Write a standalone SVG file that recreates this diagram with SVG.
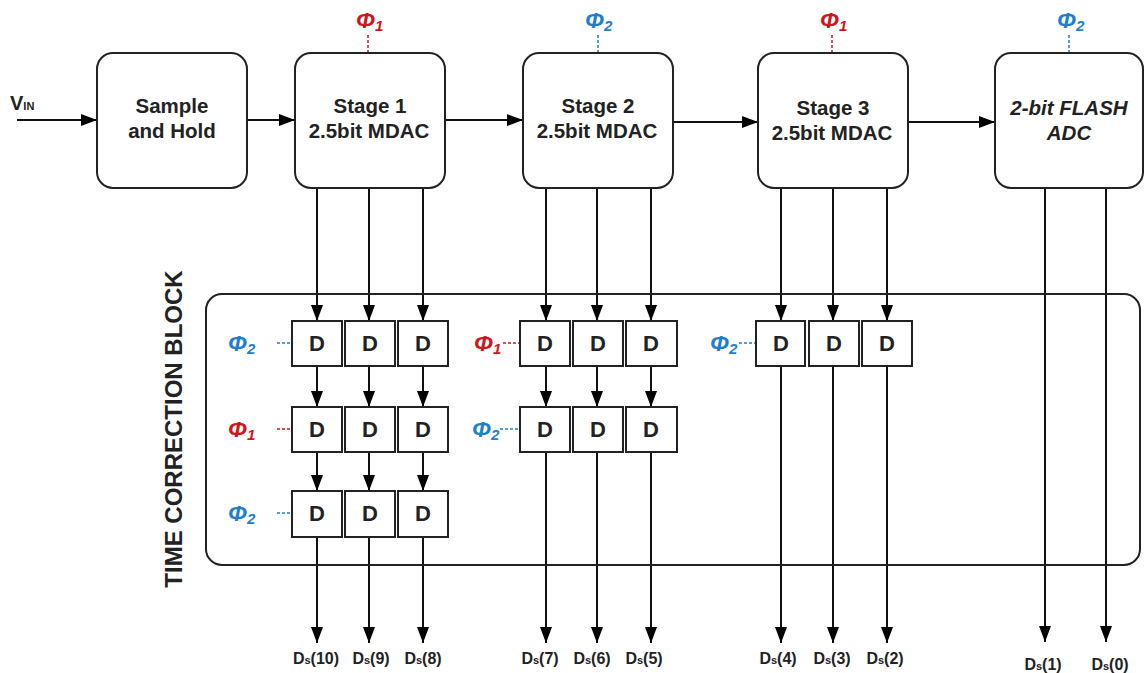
<svg xmlns="http://www.w3.org/2000/svg" width="1145" height="673" viewBox="0 0 1145 673">
<defs>
<marker id="ah" viewBox="0 0 16 12" refX="16" refY="6" markerWidth="16" markerHeight="12" markerUnits="userSpaceOnUse" orient="auto">
<path d="M0,0 L16,6 L0,12 Z" fill="#000"/>
</marker>
<style>
.blk{fill:#fff;stroke:#222;stroke-width:2}
.d{fill:#fff;stroke:#222;stroke-width:2}
.t{font-family:"Liberation Sans",Arial,sans-serif;font-weight:bold;fill:#222;text-anchor:middle}
.bt{font-size:20.5px}
.dt{font-size:22px}
.a{stroke:#111;stroke-width:2;fill:none;marker-end:url(#ah)}
.ph{font-family:"Liberation Sans",Arial,sans-serif;font-weight:bold;font-style:italic;font-size:23px}
.sb{font-size:15px}
.p1{fill:#d0161b}
.p2{fill:#1f7fcf}
.dr{stroke:#d0161b;stroke-width:1.5;stroke-dasharray:3,2;fill:none}
.db{stroke:#1f7fcf;stroke-width:1.5;stroke-dasharray:3,2;fill:none}
.ds{font-family:"Liberation Sans",Arial,sans-serif;font-weight:bold;font-size:16px;fill:#222;text-anchor:middle}
.ss{font-size:11px}
</style>
</defs>

<g id="connectors">
<line class="a" x1="17" y1="120" x2="97" y2="120"/>
<line class="a" x1="247" y1="120" x2="295" y2="120"/>
<line class="a" x1="445" y1="120" x2="523" y2="120"/>
<line class="a" x1="673" y1="122" x2="758" y2="122"/>
<line class="a" x1="908" y1="122" x2="995" y2="122"/>
<!-- stage 1 -->
<line class="a" x1="317" y1="188" x2="317" y2="321"/>
<line class="a" x1="369" y1="188" x2="369" y2="321"/>
<line class="a" x1="423" y1="188" x2="423" y2="321"/>
<line class="a" x1="317" y1="366" x2="317" y2="407"/>
<line class="a" x1="369" y1="366" x2="369" y2="407"/>
<line class="a" x1="423" y1="366" x2="423" y2="407"/>
<line class="a" x1="317" y1="452" x2="317" y2="491"/>
<line class="a" x1="369" y1="452" x2="369" y2="491"/>
<line class="a" x1="423" y1="452" x2="423" y2="491"/>
<line class="a" x1="317" y1="537" x2="317" y2="643"/>
<line class="a" x1="369" y1="537" x2="369" y2="643"/>
<line class="a" x1="423" y1="537" x2="423" y2="643"/>
<!-- stage 2 -->
<line class="a" x1="546" y1="188" x2="546" y2="321"/>
<line class="a" x1="597" y1="188" x2="597" y2="321"/>
<line class="a" x1="651" y1="188" x2="651" y2="321"/>
<line class="a" x1="546" y1="366" x2="546" y2="407"/>
<line class="a" x1="597" y1="366" x2="597" y2="407"/>
<line class="a" x1="651" y1="366" x2="651" y2="407"/>
<line class="a" x1="546" y1="452" x2="546" y2="643"/>
<line class="a" x1="597" y1="452" x2="597" y2="643"/>
<line class="a" x1="651" y1="452" x2="651" y2="643"/>
<!-- stage 3 -->
<line class="a" x1="781" y1="188" x2="781" y2="321"/>
<line class="a" x1="833" y1="188" x2="833" y2="321"/>
<line class="a" x1="887" y1="188" x2="887" y2="321"/>
<line class="a" x1="781" y1="366" x2="781" y2="643"/>
<line class="a" x1="833" y1="366" x2="833" y2="643"/>
<line class="a" x1="887" y1="366" x2="887" y2="643"/>
<!-- flash -->
<line class="a" x1="1045" y1="188" x2="1045" y2="642"/>
<line class="a" x1="1106" y1="188" x2="1106" y2="642"/>
<!-- clock dashes -->
<line class="dr" x1="368" y1="35" x2="368" y2="53"/>
<line class="db" x1="598" y1="35" x2="598" y2="53"/>
<line class="dr" x1="832" y1="35" x2="832" y2="53"/>
<line class="db" x1="1069" y1="35" x2="1069" y2="53"/>
<line class="db" x1="277" y1="343" x2="292" y2="343"/>
<line class="dr" x1="277" y1="429" x2="292" y2="429"/>
<line class="db" x1="277" y1="513" x2="292" y2="513"/>
<line class="dr" x1="503" y1="343" x2="520" y2="343"/>
<line class="db" x1="500" y1="429" x2="520" y2="429"/>
<line class="db" x1="739" y1="343" x2="756" y2="343"/>
</g>

<g id="vin"><text class="t" x="10" y="110" style="font-size:20px;text-anchor:start">V<tspan style="font-size:11px">IN</tspan></text></g>

<g id="sh"><rect class="blk" x="97" y="53" width="150" height="135" rx="16"/>
<text class="t bt" x="172" y="113">Sample</text><text class="t bt" x="172" y="138">and Hold</text></g>
<g id="stage1"><rect class="blk" x="295" y="53" width="150" height="135" rx="16"/>
<text class="t bt" x="370" y="113">Stage 1</text><text class="t bt" x="369" y="138">2.5bit MDAC</text></g>
<g id="stage2"><rect class="blk" x="523" y="53" width="150" height="135" rx="16"/>
<text class="t bt" x="598" y="113">Stage 2</text><text class="t bt" x="597" y="138">2.5bit MDAC</text></g>
<g id="stage3"><rect class="blk" x="758" y="53" width="150" height="135" rx="16"/>
<text class="t bt" x="833" y="115">Stage 3</text><text class="t bt" x="832" y="140">2.5bit MDAC</text></g>
<g id="flash"><rect class="blk" x="995" y="53" width="148" height="135" rx="16"/>
<text class="t bt" x="1069" y="115" font-style="italic">2-bit FLASH</text><text class="t bt" x="1069" y="140" font-style="italic">ADC</text></g>

<g id="clk-top">
<text class="ph p1" x="356" y="28">Φ<tspan class="sb" dy="3">1</tspan></text>
<text class="ph p2" x="585" y="28">Φ<tspan class="sb" dy="3">2</tspan></text>
<text class="ph p1" x="820" y="28">Φ<tspan class="sb" dy="3">1</tspan></text>
<text class="ph p2" x="1057" y="28">Φ<tspan class="sb" dy="3">2</tspan></text>
</g>

<g id="tcb"><rect x="206" y="294" width="934" height="271" rx="16" fill="none" stroke="#222" stroke-width="2"/>
<text class="t" transform="translate(182,429) rotate(-90)" style="font-size:24px">TIME CORRECTION BLOCK</text></g>

<g id="clk-tcb">
<text class="ph p2" x="228" y="351">Φ<tspan class="sb" dy="3">2</tspan></text>
<text class="ph p1" x="228" y="437">Φ<tspan class="sb" dy="3">1</tspan></text>
<text class="ph p2" x="228" y="521">Φ<tspan class="sb" dy="3">2</tspan></text>
<text class="ph p1" x="474" y="351">Φ<tspan class="sb" dy="3">1</tspan></text>
<text class="ph p2" x="472" y="437">Φ<tspan class="sb" dy="3">2</tspan></text>
<text class="ph p2" x="710" y="351">Φ<tspan class="sb" dy="3">2</tspan></text>
</g>

<g id="d-s1">
<rect class="d" x="292" y="321" width="50" height="45"/><text class="t dt" x="317" y="351">D</text>
<rect class="d" x="345" y="321" width="50" height="45"/><text class="t dt" x="370" y="351">D</text>
<rect class="d" x="398" y="321" width="50" height="45"/><text class="t dt" x="423" y="351">D</text>
<rect class="d" x="292" y="407" width="50" height="45"/><text class="t dt" x="317" y="437">D</text>
<rect class="d" x="345" y="407" width="50" height="45"/><text class="t dt" x="370" y="437">D</text>
<rect class="d" x="398" y="407" width="50" height="45"/><text class="t dt" x="423" y="437">D</text>
<rect class="d" x="292" y="491" width="50" height="46"/><text class="t dt" x="317" y="521">D</text>
<rect class="d" x="345" y="491" width="50" height="46"/><text class="t dt" x="370" y="521">D</text>
<rect class="d" x="398" y="491" width="50" height="46"/><text class="t dt" x="423" y="521">D</text>
</g>
<g id="d-s2">
<rect class="d" x="520" y="321" width="50" height="45"/><text class="t dt" x="545" y="351">D</text>
<rect class="d" x="573" y="321" width="50" height="45"/><text class="t dt" x="598" y="351">D</text>
<rect class="d" x="626" y="321" width="51" height="45"/><text class="t dt" x="651" y="351">D</text>
<rect class="d" x="520" y="407" width="50" height="45"/><text class="t dt" x="545" y="437">D</text>
<rect class="d" x="573" y="407" width="50" height="45"/><text class="t dt" x="598" y="437">D</text>
<rect class="d" x="626" y="407" width="51" height="45"/><text class="t dt" x="651" y="437">D</text>
</g>
<g id="d-s3">
<rect class="d" x="756" y="321" width="49" height="45"/><text class="t dt" x="781" y="351">D</text>
<rect class="d" x="809" y="321" width="50" height="45"/><text class="t dt" x="834" y="351">D</text>
<rect class="d" x="862" y="321" width="50" height="45"/><text class="t dt" x="887" y="351">D</text>
</g>

<g id="outputs">
<text class="ds" x="316" y="664">D<tspan class="ss">s</tspan>(10)</text>
<text class="ds" x="371" y="664">D<tspan class="ss">s</tspan>(9)</text>
<text class="ds" x="423" y="664">D<tspan class="ss">s</tspan>(8)</text>
<text class="ds" x="540" y="664">D<tspan class="ss">s</tspan>(7)</text>
<text class="ds" x="592" y="664">D<tspan class="ss">s</tspan>(6)</text>
<text class="ds" x="644" y="664">D<tspan class="ss">s</tspan>(5)</text>
<text class="ds" x="778" y="664">D<tspan class="ss">s</tspan>(4)</text>
<text class="ds" x="832" y="664">D<tspan class="ss">s</tspan>(3)</text>
<text class="ds" x="885" y="664">D<tspan class="ss">s</tspan>(2)</text>
<text class="ds" x="1043" y="670">D<tspan class="ss">s</tspan>(1)</text>
<text class="ds" x="1110" y="670">D<tspan class="ss">s</tspan>(0)</text>
</g>
</svg>
